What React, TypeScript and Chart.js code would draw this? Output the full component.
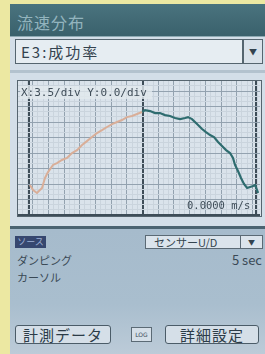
import React, { useEffect, useRef } from "react";
import { Chart, registerables } from "chart.js";

Chart.register(...registerables);

// Curve values (x in div, y in div)
const leftX = [-7.17, -6.97, -6.72, -6.4, -6.21, -6.02, -5.7, -5.45, -5.13, -4.81, -4.49, -4.17, -3.85, -3.54, -3.22, -2.9, -2.58, -2.26, -1.94, -1.62, -1.31, -0.99, -0.67, -0.35, -0.03];
const leftY = [1.94, 1.61, 1.42, 1.74, 2.39, 2.77, 3.23, 3.35, 3.55, 3.68, 4.0, 4.19, 4.52, 4.77, 5.03, 5.29, 5.48, 5.68, 5.87, 6.0, 6.13, 6.32, 6.39, 6.52, 6.65];
const rightX = [-0.03, 0.16, 0.48, 0.8, 1.11, 1.43, 1.75, 2.07, 2.39, 2.71, 2.9, 3.15, 3.34, 3.6, 3.79, 4.04, 4.3, 4.55, 4.81, 5.06, 5.32, 5.57, 5.76, 5.89, 6.08, 6.27, 6.46, 6.66, 6.85, 7.04, 7.17, 7.29, 7.36];
const rightY = [6.65, 6.77, 6.71, 6.58, 6.58, 6.45, 6.39, 6.26, 6.19, 6.26, 6.32, 6.19, 6.0, 5.74, 5.55, 5.35, 5.16, 5.03, 4.71, 4.45, 4.19, 4.0, 3.68, 3.23, 2.84, 2.39, 2.0, 1.74, 1.81, 1.87, 1.94, 1.61, 1.42];

const xRange = [-7.93, 7.48];
const yRange = [-0.065, 8.65];
const xHeavy = [-7.2, 0, 7.25];
const yHeavy = [0];

const titleText = "流速分布";
const selectText = "E3:成功率";
const scaleText = "X:3.5/div Y:0.0/div";
const valueText = "0.0000 m/s";
const sourceLabel = "ソース";
const sourceValue = "センサーU/D";
const dampLabel = "ダンピング";
const dampValue = "5 sec";
const cursorLabel = "カーソル";
const btn1 = "計測データ";
const btn2 = "詳細設定";

function gridValues(min: number, max: number, heavy: number[]) {
  const vals: number[] = [];
  for (let k = Math.ceil(min * 3); k <= Math.floor(max * 3); k++) vals.push(k / 3);
  heavy.forEach((h) => {
    if (!vals.some((v) => Math.abs(v - h) < 1e-6)) vals.push(h);
  });
  return vals.sort((a, b) => a - b);
}

function gridStyle(heavy: number[]) {
  const kind = (v: number) => {
    if (heavy.some((h) => Math.abs(h - v) < 1e-6)) return 2;
    if (Math.abs(v - Math.round(v)) < 1e-6) return 1;
    return 0;
  };
  return {
    drawTicks: false,
    color: (c: any) => ["#cad4dd", "#93a2af", "#3e4d58"][kind(c.tick.value)],
    lineWidth: (c: any) => [1, 1, 2][kind(c.tick.value)],
  };
}

function Plot() {
  const ref = useRef<HTMLCanvasElement>(null);
  useEffect(() => {
    const chart = new Chart(ref.current!, {
      type: "line",
      data: {
        datasets: [
          {
            data: leftX.map((x, i) => ({ x, y: leftY[i] })),
            borderColor: "#d9ae98",
            borderWidth: 2,
            pointRadius: 0,
          },
          {
            data: rightX.map((x, i) => ({ x, y: rightY[i] })),
            borderColor: "#2e6c6f",
            borderWidth: 2.2,
            pointRadius: 0,
          },
        ],
      },
      options: {
        animation: false,
        responsive: false,
        devicePixelRatio: 1,
        layout: { padding: 0 },
        plugins: { legend: { display: false }, tooltip: { enabled: false } },
        scales: {
          x: {
            type: "linear",
            min: xRange[0],
            max: xRange[1],
            ticks: { display: false },
            border: { display: false },
            grid: gridStyle(xHeavy) as any,
            afterBuildTicks: (s: any) => {
              s.ticks = gridValues(xRange[0], xRange[1], xHeavy).map((v) => ({ value: v }));
            },
          },
          y: {
            type: "linear",
            min: yRange[0],
            max: yRange[1],
            ticks: { display: false },
            border: { display: false },
            grid: gridStyle(yHeavy) as any,
            afterBuildTicks: (s: any) => {
              s.ticks = gridValues(yRange[0], yRange[1], yHeavy).map((v) => ({ value: v }));
            },
          },
        },
      },
    });
    return () => chart.destroy();
  }, []);
  return <canvas ref={ref} width={242} height={135} style={{ display: "block" }} />;
}

const jp = '"Noto Sans CJK JP", sans-serif';
const abs = (l: number, t: number, w: number, h: number): React.CSSProperties => ({
  position: "absolute",
  left: l,
  top: t,
  width: w,
  height: h,
  boxSizing: "border-box",
});

export default function App() {
  useEffect(() => {
    document.body.style.margin = "0";
  }, []);
  const btn: React.CSSProperties = {
    background: "#d5dfe8",
    border: "1.5px solid #4b5c68",
    borderRadius: 3,
    color: "#2c3c48",
    fontFamily: jp,
    fontSize: 15,
    display: "flex",
    alignItems: "center",
    justifyContent: "center",
    letterSpacing: 1,
  };
  return (
    <div style={{ position: "relative", width: 265, height: 354, background: "#ece8a2", overflow: "hidden", fontFamily: jp }}>
      {/* panel */}
      <div style={{ ...abs(10, 4, 255, 350), background: "#d3dee8" }} />
      {/* title */}
      <div style={{ ...abs(10, 4, 255, 33), background: "linear-gradient(#4a737e, #3a616c)", borderBottom: "1px solid #8eaab3" }} />
      <div style={{ ...abs(17, 11, 120, 22), color: "#93b4be", fontSize: 16, letterSpacing: 1, lineHeight: "22px" }}>{titleText}</div>
      {/* select */}
      <div style={{ ...abs(15, 39, 228, 25), background: "#e6edf2", border: "1.5px solid #55656f" }} />
      <div style={{ ...abs(21, 40, 200, 23), color: "#34434f", fontSize: 15, lineHeight: "23px", letterSpacing: 2 }}>{selectText}</div>
      <div style={{ ...abs(243, 39, 20, 25), background: "#d9e2ea", border: "1.5px solid #55656f", color: "#33434f", fontSize: 8, display: "flex", alignItems: "center", justifyContent: "center" }}>▼</div>
      <div style={{ ...abs(10, 70, 255, 3), background: "#b3c2ce" }} />
      {/* plot */}
      <div style={{ ...abs(17, 80, 245, 137), background: "#dae3eb", border: "1px solid #56656f" }}>
        <Plot />
      </div>
      <div style={{ ...abs(20, 86, 132, 13), background: "rgba(225,232,238,0.8)" }} />
      <div style={{ ...abs(21, 86, 140, 13), color: "#3f4d58", fontFamily: '"DejaVu Sans Mono", monospace', fontSize: 11, lineHeight: "13px" }}>{scaleText}</div>
      <div style={{ ...abs(187, 199, 70, 13), color: "#3f4d58", fontFamily: '"DejaVu Sans Mono", monospace', fontSize: 10.5, lineHeight: "13px" }}>{valueText}</div>
      {/* lower panel */}
      <div style={{ ...abs(10, 226, 255, 3), background: "#4b6371" }} />
      <div style={{ ...abs(10, 229, 255, 125), background: "linear-gradient(#a6bbcc 0%, #a9bece 60%, #bccbd8 100%)" }} />
      <div style={{ ...abs(15, 236, 31, 12), background: "#36476f", color: "#9fb1d6", fontSize: 9, lineHeight: "12px", textAlign: "center" }}>{sourceLabel}</div>
      <div style={{ ...abs(145, 235, 96, 14), background: "#dbe4ec", border: "1px solid #5b6a75", color: "#34444f", fontSize: 11, lineHeight: "12px", paddingLeft: 8 }}>{sourceValue}</div>
      <div style={{ ...abs(240, 235, 23, 14), background: "#dbe4ec", border: "1px solid #5b6a75", color: "#33434f", fontSize: 7, display: "flex", alignItems: "center", justifyContent: "center" }}>▼</div>
      <div style={{ ...abs(17, 253, 100, 15), color: "#3a4955", fontSize: 11, lineHeight: "15px" }}>{dampLabel}</div>
      <div style={{ ...abs(190, 252, 72, 16), color: "#3a4955", fontSize: 13, lineHeight: "16px", textAlign: "right" }}>{dampValue}</div>
      <div style={{ ...abs(17, 270, 100, 15), color: "#3a4955", fontSize: 11, lineHeight: "15px" }}>{cursorLabel}</div>
      <div style={{ ...abs(15, 325, 96, 19), ...btn }}>{btn1}</div>
      <div style={{ ...abs(131, 327, 21, 15), background: "#d5dfe8", border: "1px solid #5b6a75", color: "#3c4c58", fontSize: 6, fontFamily: "DejaVu Sans", display: "flex", alignItems: "center", justifyContent: "center" }}>LOG</div>
      <div style={{ ...abs(165, 325, 94, 19), ...btn }}>{btn2}</div>
    </div>
  );
}
